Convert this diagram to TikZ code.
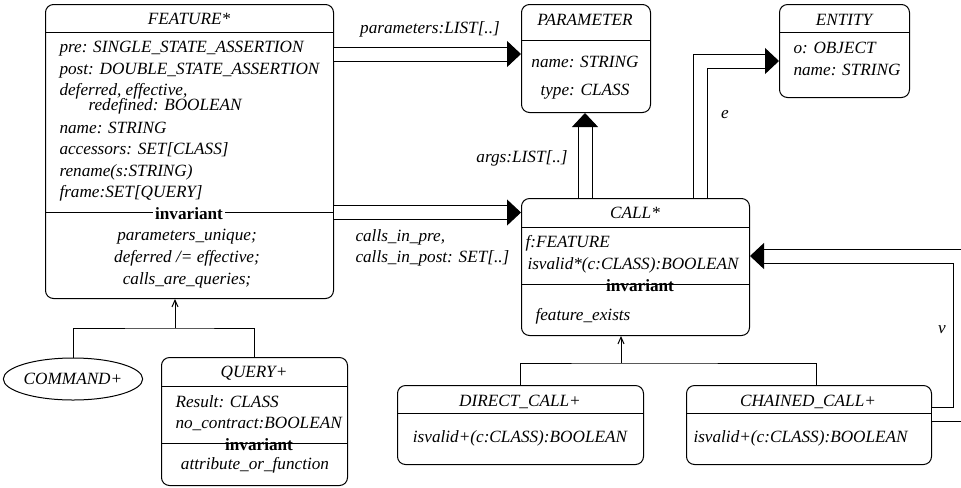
\documentclass[tikz,border=0pt]{standalone}
\usepackage{fontspec}
\setmainfont{Liberation Serif}
\usetikzlibrary{arrows.meta,calc,shapes.geometric}

\newcommand{\umlfont}{\fontsize{12.9}{15.5}\selectfont}

\tikzset{
  classbox/.style={draw, rounded corners=6pt, anchor=north west, inner sep=0pt},
  cname/.style={inner sep=0pt, font=\umlfont\itshape},
  attr/.style={inner sep=0pt, anchor=west, font=\umlfont\itshape},
  invlabel/.style={inner sep=1.5pt, font=\umlfont\bfseries},
  assoc/.style={double distance=9.75pt, -{Triangle[length=10.5pt,width=19.5pt]}},
  inherit/.style={-{Straight Barb[length=5pt,width=4.5pt]}}
}

\begin{document}
\begin{tikzpicture}[x=0.75pt,y=0.75pt,yscale=-1,xscale=1,line width=0.75pt]
\useasboundingbox (0,0) rectangle (961,487);

%Class boxes
\draw (45,4) node (feature) [classbox, minimum width=216pt, minimum height=220.5pt] {};
\draw (521,4) node (parameter) [classbox, minimum width=96.75pt, minimum height=81pt] {};
\draw (779,4) node (entity) [classbox, minimum width=97.5pt, minimum height=69.75pt] {};
\draw (521,198) node (call) [classbox, minimum width=171pt, minimum height=102.75pt] {};
\draw (161,357) node (query) [classbox, minimum width=139.5pt, minimum height=96pt] {};
\draw (397,385) node (direct) [classbox, minimum width=184.5pt, minimum height=59.25pt] {};
\draw (686,385) node (chained) [classbox, minimum width=183.75pt, minimum height=59.25pt] {};
\draw (73,379) node (command) [draw, ellipse, inner sep=0pt, minimum width=97.5pt, minimum height=31.5pt, font=\umlfont\itshape] {COMMAND+};

%Separators
\draw (45,32) -- (333,32);
\draw (45,212) -- (333,212);
\draw (521,40) -- (650,40);
\draw (779,32) -- (909,32);
\draw (521,227) -- (749,227);
\draw (521,284) -- (749,284);
\draw (161,386) -- (347,386);
\draw (161,443) -- (347,443);
\draw (397,413) -- (643,413);
\draw (686,413) -- (931,413);

% Text Node
\draw (189,19) node (feattitle) [cname] {FEATURE*};
\draw (59,49) node (featpre) [attr] {pre: SINGLE\_STATE\_ASSERTION};
\draw (59,71) node (featpost) [attr] {post: DOUBLE\_STATE\_ASSERTION};
\draw (59,99) node (featdef) [attr, align=left] {deferred, effective,\\[-4pt]\hspace*{21.75pt}redefined: BOOLEAN};
\draw (59,128) node (featname) [attr] {name: STRING};
\draw (59,150) node (featacc) [attr] {accessors: SET[CLASS]};
\draw (59,172) node (featren) [attr] {rename(s:STRING)};
\draw (59,193) node (featframe) [attr] {frame:SET[QUERY]};
\draw (189,214) node (featinv) [invlabel, fill=white] {invariant};
\draw (187,237) node (featuniq) [cname] {parameters\_unique;};
\draw (187,258) node (featdeff) [cname] {deferred /= effective;};
\draw (187,280) node (featcalls) [cname] {calls\_are\_queries;};
% Text Node
\draw (585,20) node (paramtitle) [cname] {PARAMETER};
\draw (585,62) node (paramname) [cname] {name: STRING};
\draw (585,92) node (paramtype) [cname] {type: CLASS};
% Text Node
\draw (844,20) node (enttitle) [cname] {ENTITY};
\draw (793,48) node (entobj) [attr] {o: OBJECT};
\draw (793,70) node (entname) [attr] {name: STRING};
% Text Node
\draw (635,213) node (calltitle) [cname] {CALL*};
\draw (525,243) node (callf) [attr] {f:FEATURE};
\draw (527,265) node (callvalid) [attr] {isvalid*(c:CLASS):BOOLEAN};
\draw (640,286) node (callinv) [invlabel] {invariant};
\draw (535,316) node (callexists) [attr] {feature\_exists};
% Text Node
\draw (254,373) node (querytitle) [cname] {QUERY+};
\draw (175,402) node (queryres) [attr] {Result: CLASS};
\draw (175,424) node (querynoc) [attr] {no\_contract:BOOLEAN};
\draw (259,445) node (queryinv) [invlabel] {invariant};
\draw (255,465) node (queryattr) [cname] {attribute\_or\_function};
% Text Node
\draw (520,402) node (directtitle) [cname] {DIRECT\_CALL+};
\draw (520,438) node (directvalid) [cname] {isvalid+(c:CLASS):BOOLEAN};
\draw (808,402) node (chainedtitle) [cname] {CHAINED\_CALL+};
\draw (693,438) node (chainedvalid) [attr] {isvalid+(c:CLASS):BOOLEAN};

%Associations
\draw [assoc] ($(feature.north east)+(0,50)$) -- ($(parameter.north west)+(0,50)$);
\draw [assoc] ($(feature.north east)+(0,208.5)$) -- ($(call.north west)+(0,14.5)$);
\draw [assoc] ($(call.north west)+(64,0)$) -- ($(parameter.south west)+(64,0)$);
\draw [assoc] ($(call.north west)+(179,0)$) |- ($(entity.north west)+(0,57)$);
\draw [assoc] ($(chained.north east)+(0,29)$) -- ++(28,0) |- ($(call.north east)+(0,58)$);

% Text Node
\draw (430,29) node (lblparams) [cname] {parameters:LIST[..]};
\draw (522,158) node (lblargs) [cname] {args:LIST[..]};
\draw (355,247.5) node (lblcalls) [attr, align=left] {calls\_in\_pre,\\[0.25pt]calls\_in\_post: SET[..]};
\draw (725,115) node (lble) [cname] {e};
\draw (942,330) node (lblv) [cname] {v};

%Inheritance
\coordinate (fjoin) at (175,328);
\draw (command.north) |- (fjoin) -| (query.north);
\draw [inherit] (fjoin) -- (fjoin |- feature.south);
\coordinate (cjoin) at (621,363);
\draw (direct.north) |- (cjoin) -| ($(chained.north west)+(130,0)$);
\draw [inherit] (cjoin) -- (cjoin |- call.south);

\end{tikzpicture}
\end{document}
